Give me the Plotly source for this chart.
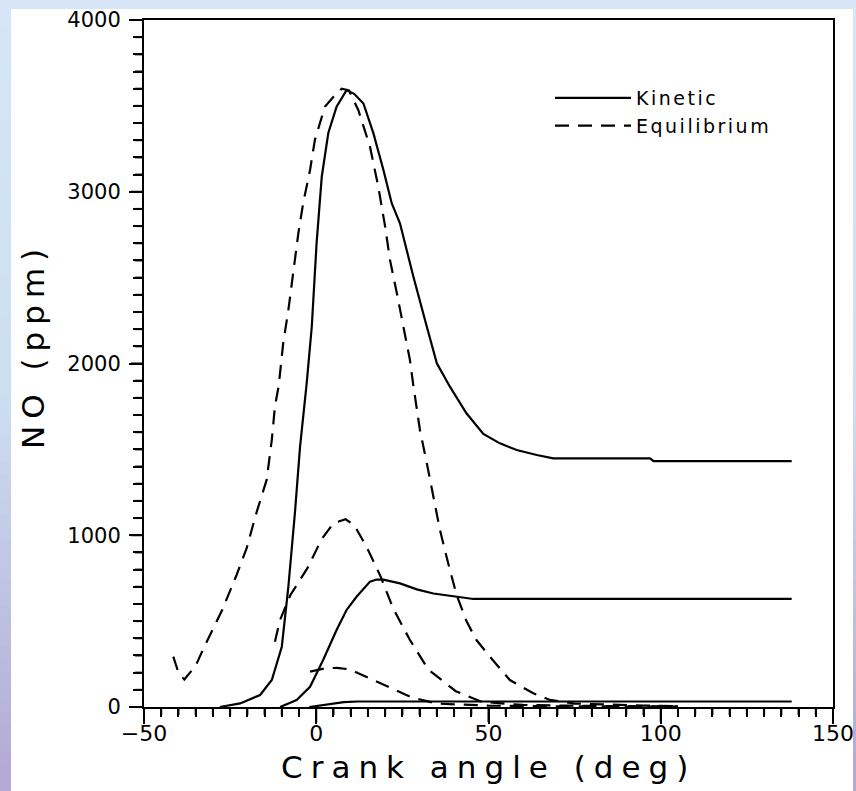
import plotly.graph_objects as go

# ---------------- data ----------------
# Kinetic NO, three cases (solid lines)
k1_x = [-28, -22.1, -16.3, -12.9, -10, -8.1, -6.2, -4.7, -2.8, -1.3, 0.1, 1.6, 3.5, 5.9, 8.8,
        11, 13.7, 16.6, 19.5, 21.9, 24.3, 28.2, 32.1, 35, 38.8, 43.6, 48.5, 53.3, 58.2, 64,
        68.8, 96.9, 97.9, 138]
k1_y = [0, 21, 70, 157, 351, 700, 1128, 1516, 1880, 2214, 2700, 3088, 3342, 3495, 3592,
        3570, 3514, 3340, 3127, 2933, 2816, 2505, 2214, 2001, 1865, 1710, 1590, 1535, 1496, 1467,
        1448, 1448, 1432, 1432]

k2_x = [-10.5, -5.7, -1.8, 2.0, 5.9, 8.8, 11.7, 15.6, 17.5, 19.5, 24.3, 29.2, 34, 41.7, 44.6, 45.6, 138]
k2_y = [0, 41, 118, 274, 448, 565, 642, 730, 742, 742, 720, 685, 661, 638, 633, 629, 629]

k3_x = [-2, 3, 8, 12, 138]
k3_y = [0, 15, 28, 32, 32]

# Equilibrium NO, three cases (dashed lines)
e1_x = [-41.5, -40, -38.3, -35, -32.5, -27.3, -23.1, -20.2, -17.3, -14.4, -12.9, -12, -10.9,
        -9.6, -8.1, -6.7, -5.2, -3.8, -1.8, -0.4, 2.5, 5, 7.4, 9.5, 12.2, 15.6, 18, 20, 21.4,
        23.4, 25.3, 27.2, 28.2, 30.1, 32.1, 34, 35.9, 38.3, 40.7, 43.6, 46.5, 50.4, 56.2, 63,
        67.8, 75, 85, 95, 105]
e1_y = [293, 200, 160, 240, 351, 565, 770, 925, 1135, 1322, 1555, 1749, 1870,
        2117, 2311, 2544, 2758, 2933, 3127, 3301, 3495, 3553, 3600, 3590, 3476, 3262, 3030, 2797, 2603,
        2409, 2214, 2020, 1870, 1613, 1419, 1224, 1031, 837, 655, 500, 390, 293, 157, 80,
        41, 20, 12, 8, 5]

e2_x = [-12, -10.5, -7.5, -2.6, 1.5, 5, 8.5, 11, 14.6, 18.7, 22.3, 27.2, 32.5, 40.5, 48, 60, 80, 105]
e2_y = [380, 507, 652, 807, 975, 1070, 1093, 1060, 933, 759, 575, 390, 219, 92, 30, 12, 6, 3]

e3_x = [-1.8, 2.5, 6, 9.8, 12.2, 19, 27.7, 35, 50, 70, 105]
e3_y = [206, 225, 228, 219, 196, 134, 56, 20, 8, 4, 2]

x_range = [-50, 150]
y_range = [0, 4000]
x_major_step, x_minor_step = 50, 5
y_major_step, y_minor_step = 1000, 100

series_names = ["Kinetic", "Equilibrium"]
x_title = "Crank angle (deg)"
y_title = "NO (ppm)"

# ---------------- layout geometry ----------------
W, H = 856, 791
ML, MR, MT, MB = 144, 23, 20, 84
PW, PH = W - ML - MR, H - MT - MB
FONT = "DejaVu Sans"
X_MAJ_LEN, X_MIN_LEN = 15, 8
Y_MAJ_LEN, Y_MIN_LEN = 13, 9


def pxx(px):
    return (px - ML) / PW


def pxy(py):
    return (H - MB - py) / PH


def spaced(t, s):
    return '<span style="letter-spacing:%spx">%s</span>' % (s, t)


def steps(lo, hi, step):
    n = int(round((hi - lo) / step))
    return [lo + i * step for i in range(n + 1)]


DASH = "14px,9px"
fig = go.Figure()
kin = [(k1_x, k1_y), (k2_x, k2_y), (k3_x, k3_y)]
equ = [(e1_x, e1_y), (e2_x, e2_y), (e3_x, e3_y)]
for i, (xs, ys) in enumerate(kin):
    fig.add_trace(go.Scatter(x=xs, y=ys, mode="lines", line=dict(color="black", width=2.2),
                             name=spaced(series_names[0], 2.5), showlegend=(i == 0)))
for i, (xs, ys) in enumerate(equ):
    fig.add_trace(go.Scatter(x=xs, y=ys, mode="lines",
                             line=dict(color="black", width=2.2, dash=DASH),
                             name=spaced(series_names[1], 2.5), showlegend=(i == 0)))

# background gradient frame + white panel
shapes = []
N = 60
top = (214, 230, 247)
mid = (205, 222, 240)
bot = (178, 168, 212)
for i in range(N):
    t = (i + 0.5) / N
    if t < 0.5:
        u = t / 0.5
        c = [round(top[j] + (mid[j] - top[j]) * u) for j in range(3)]
    else:
        u = (t - 0.5) / 0.5
        c = [round(mid[j] + (bot[j] - mid[j]) * u) for j in range(3)]
    y0 = H * i / N
    y1 = H * (i + 1) / N + 1
    shapes.append(dict(type="rect", xref="paper", yref="paper", layer="below",
                       x0=pxx(0), x1=pxx(W), y0=pxy(y1), y1=pxy(y0),
                       fillcolor="rgb(%d,%d,%d)" % tuple(c), line=dict(width=0)))
shapes.append(dict(type="rect", xref="paper", yref="paper", layer="below",
                   x0=pxx(11), x1=pxx(853), y0=pxy(H + 2), y1=pxy(9),
                   fillcolor="white", line=dict(width=0)))

# tick marks placed on the axes' own scales (x / y), length in paper units
for v in steps(x_range[0], x_range[1], x_minor_step):
    is_major = abs((v - x_range[0]) % x_major_step) < 1e-9
    L = X_MAJ_LEN if is_major else X_MIN_LEN
    shapes.append(dict(type="line", xref="x", yref="paper", layer="above",
                       x0=v, x1=v, y0=0, y1=-L / PH,
                       line=dict(color="black", width=2)))
for v in steps(y_range[0], y_range[1], y_minor_step):
    is_major = abs((v - y_range[0]) % y_major_step) < 1e-9
    L = Y_MAJ_LEN if is_major else Y_MIN_LEN
    shapes.append(dict(type="line", xref="paper", yref="y", layer="above",
                       x0=0, x1=-L / PW, y0=v, y1=v,
                       line=dict(color="black", width=2)))

annotations = [
    dict(text=spaced(x_title, 8), xref="paper", yref="paper", x=pxx(488), y=pxy(767),
         xanchor="center", yanchor="middle", showarrow=False,
         font=dict(family=FONT, size=31, color="black")),
    dict(text=spaced(y_title, 7), xref="paper", yref="paper", x=pxx(33), y=pxy(346),
         xanchor="center", yanchor="middle", showarrow=False, textangle=-90,
         font=dict(family=FONT, size=31, color="black")),
]

fig.update_layout(
    width=W, height=H,
    margin=dict(l=ML, r=MR, t=MT, b=MB, pad=0, autoexpand=False),
    paper_bgcolor="rgb(205,222,240)",
    plot_bgcolor="white",
    shapes=shapes,
    annotations=annotations,
    font=dict(family=FONT, color="black"),
    legend=dict(x=pxx(550), y=pxy(79), xanchor="left", yanchor="top",
                bgcolor="rgba(0,0,0,0)", borderwidth=0, itemwidth=76,
                font=dict(family=FONT, size=19, color="black"),
                tracegroupgap=0),
    showlegend=True,
    xaxis=dict(
        range=x_range, showgrid=False, zeroline=False, automargin=False,
        showline=True, linecolor="black", linewidth=2, mirror=True,
        ticks="outside", ticklen=X_MAJ_LEN, tickwidth=2, tickcolor="black",
        tickmode="linear", tick0=x_range[0], dtick=x_major_step,
        tickfont=dict(family=FONT, size=22, color="black"),
        ticklabelstandoff=-9,
        minor=dict(ticks="outside", ticklen=X_MIN_LEN, tickwidth=2, tickcolor="black",
                   tickmode="linear", tick0=x_range[0], dtick=x_minor_step, showgrid=False),
    ),
    yaxis=dict(
        range=y_range, showgrid=False, zeroline=False, automargin=False,
        showline=True, linecolor="black", linewidth=2, mirror=True,
        ticks="outside", ticklen=Y_MAJ_LEN, tickwidth=2, tickcolor="black",
        tickmode="linear", tick0=y_range[0], dtick=y_major_step,
        tickfont=dict(family=FONT, size=21, color="black"),
        ticklabelstandoff=4,
        minor=dict(ticks="outside", ticklen=Y_MIN_LEN, tickwidth=2, tickcolor="black",
                   tickmode="linear", tick0=y_range[0], dtick=y_minor_step, showgrid=False),
    ),
)

fig.write_html("out.html")
